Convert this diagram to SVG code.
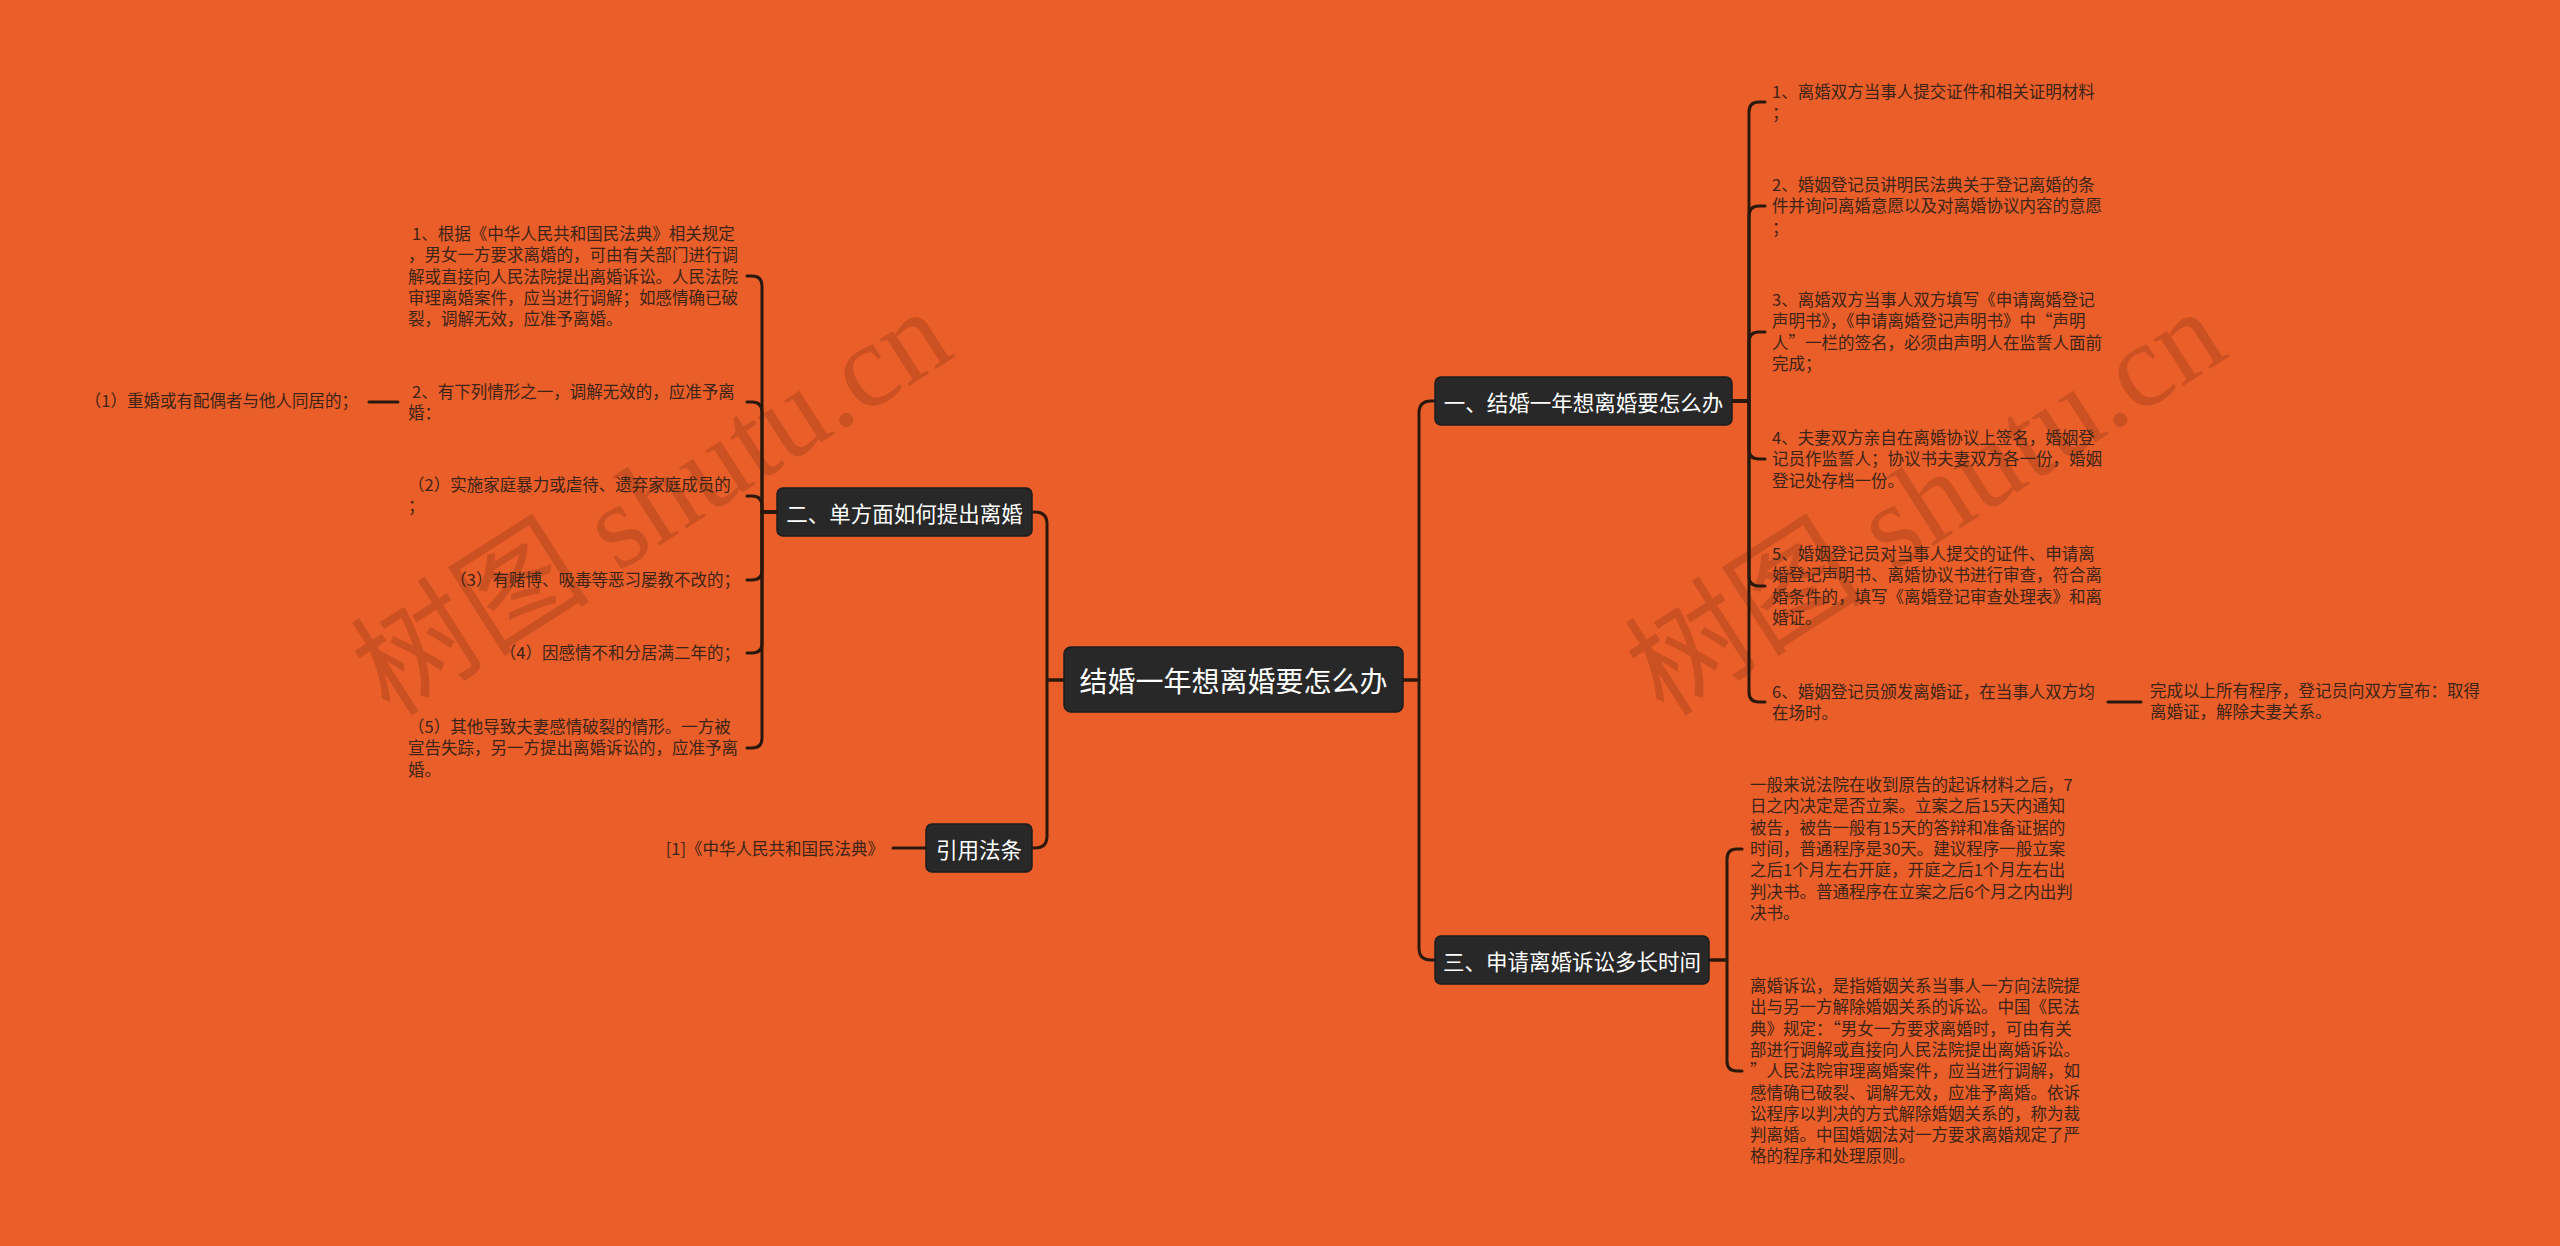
<svg xmlns="http://www.w3.org/2000/svg" width="2560" height="1246" viewBox="0 0 2560 1246">
<style>
.bg{fill:#E95E29}
.box{fill:#282828;stroke:#1c1c1c;stroke-width:1.5}
.nt{fill:#ffffff;font-family:"Noto Sans CJK SC","Noto Sans",sans-serif;dominant-baseline:central;text-anchor:middle}
.leaf{fill:#3d2417;font-family:"Noto Sans CJK SC","Noto Sans",sans-serif;font-size:16.5px}
.edge{fill:none;stroke:#2a180d;stroke-width:3;stroke-linecap:round;stroke-linejoin:round}
.wm{fill:#5a1e08;opacity:0.2;font-family:"Liberation Serif","Noto Sans CJK SC",serif;font-size:120px}
</style>
<rect class="bg" x="0" y="0" width="2560" height="1246"/>

<g id="watermarks">
<text class="wm" x="390" y="718" transform="rotate(-32.6 390 718)">树图 shutu.cn</text>
<text class="wm" x="1664" y="718" transform="rotate(-32.6 1664 718)">树图 shutu.cn</text>
</g>

<g id="connectors">
<path class="edge" d="M1403 680 L1419 680 L1419 413 Q1419 401 1431 401 L1435 401"/>
<path class="edge" d="M1403 680 L1419 680 L1419 948 Q1419 960 1431 960 L1435 960"/>
<path class="edge" d="M1064 680 L1047 680 L1047 524 Q1047 512 1035 512 L1032 512"/>
<path class="edge" d="M1064 680 L1047 680 L1047 836 Q1047 848 1035 848 L1032 848"/>
<path class="edge" d="M1732 401 L1749 401 L1749 112 Q1749 102 1759 102 L1765 102"/>
<path class="edge" d="M1732 401 L1749 401 L1749 216 Q1749 206 1759 206 L1765 206"/>
<path class="edge" d="M1732 401 L1749 401 L1749 342 Q1749 332 1759 332 L1765 332"/>
<path class="edge" d="M1732 401 L1749 401 L1749 449 Q1749 459 1759 459 L1765 459"/>
<path class="edge" d="M1732 401 L1749 401 L1749 576 Q1749 586 1759 586 L1765 586"/>
<path class="edge" d="M1732 401 L1749 401 L1749 692 Q1749 702 1759 702 L1765 702"/>
<path class="edge" d="M2108 702 L2141 702"/>
<path class="edge" d="M1709 960 L1727 960 L1727 859 Q1727 849 1737 849 L1742 849"/>
<path class="edge" d="M1709 960 L1727 960 L1727 1061 Q1727 1071 1737 1071 L1742 1071"/>
<path class="edge" d="M777 512 L762 512 L762 286 Q762 276 752 276 L747 276"/>
<path class="edge" d="M777 512 L762 512 L762 412 Q762 402 752 402 L747 402"/>
<path class="edge" d="M777 512 L762 512 L762 506 Q762 496 752 496 L747 496"/>
<path class="edge" d="M777 512 L762 512 L762 570 Q762 580 752 580 L747 580"/>
<path class="edge" d="M777 512 L762 512 L762 643 Q762 653 752 653 L747 653"/>
<path class="edge" d="M777 512 L762 512 L762 738 Q762 748 752 748 L747 748"/>
<path class="edge" d="M398 402 L369 402"/>
<path class="edge" d="M926 848 L893 848"/>
</g>

<g id="root">
<rect class="box" x="1064" y="647" width="339" height="65" rx="7"/>
<text class="nt" x="1233.5" y="680" font-size="28">结婚一年想离婚要怎么办</text>
</g>

<g id="branch1">
<rect class="box" x="1435" y="377" width="297" height="48" rx="6"/>
<text class="nt" x="1583.5" y="401" font-size="21.5">一、结婚一年想离婚要怎么办</text>
</g>

<g id="branch2">
<rect class="box" x="777" y="488" width="255" height="48" rx="6"/>
<text class="nt" x="904.5" y="512" font-size="21.5">二、单方面如何提出离婚</text>
</g>

<g id="branch3">
<rect class="box" x="1435" y="936" width="274" height="48" rx="6"/>
<text class="nt" x="1572" y="960" font-size="21.5">三、申请离婚诉讼多长时间</text>
</g>

<g id="branch4">
<rect class="box" x="926" y="824" width="106" height="48" rx="6"/>
<text class="nt" x="979" y="848" font-size="21.5">引用法条</text>
</g>

<g id="b1-c1"><text class="leaf" x="1772" y="98"><tspan x="1772">1、离婚双方当事人提交证件和相关证明材料</tspan><tspan x="1772" dy="21.3">；</tspan></text></g>
<g id="b1-c2"><text class="leaf" x="1772" y="191"><tspan x="1772">2、婚姻登记员讲明民法典关于登记离婚的条</tspan><tspan x="1772" dy="21.3">件并询问离婚意愿以及对离婚协议内容的意愿</tspan><tspan x="1772" dy="21.3">；</tspan></text></g>
<g id="b1-c3"><text class="leaf" x="1772" y="306"><tspan x="1772">3、离婚双方当事人双方填写《申请离婚登记</tspan><tspan x="1772" dy="21.3">声明书》，《申请离婚登记声明书》中“声明</tspan><tspan x="1772" dy="21.3">人”一栏的签名，必须由声明人在监誓人面前</tspan><tspan x="1772" dy="21.3">完成；</tspan></text></g>
<g id="b1-c4"><text class="leaf" x="1772" y="444"><tspan x="1772">4、夫妻双方亲自在离婚协议上签名，婚姻登</tspan><tspan x="1772" dy="21.3">记员作监誓人；协议书夫妻双方各一份，婚姻</tspan><tspan x="1772" dy="21.3">登记处存档一份。</tspan></text></g>
<g id="b1-c5"><text class="leaf" x="1772" y="560"><tspan x="1772">5、婚姻登记员对当事人提交的证件、申请离</tspan><tspan x="1772" dy="21.3">婚登记声明书、离婚协议书进行审查，符合离</tspan><tspan x="1772" dy="21.3">婚条件的，填写《离婚登记审查处理表》和离</tspan><tspan x="1772" dy="21.3">婚证。</tspan></text></g>
<g id="b1-c6"><text class="leaf" x="1772" y="698"><tspan x="1772">6、婚姻登记员颁发离婚证，在当事人双方均</tspan><tspan x="1772" dy="21.3">在场时。</tspan></text></g>
<g id="b1-c6-1"><text class="leaf" x="2150" y="697"><tspan x="2150">完成以上所有程序，登记员向双方宣布：取得</tspan><tspan x="2150" dy="21.3">离婚证，解除夫妻关系。</tspan></text></g>

<g id="b3-c1"><text class="leaf" x="1750" y="791"><tspan x="1750">一般来说法院在收到原告的起诉材料之后，7</tspan><tspan x="1750" dy="21.3">日之内决定是否立案。立案之后15天内通知</tspan><tspan x="1750" dy="21.3">被告，被告一般有15天的答辩和准备证据的</tspan><tspan x="1750" dy="21.3">时间，普通程序是30天。建议程序一般立案</tspan><tspan x="1750" dy="21.3">之后1个月左右开庭，开庭之后1个月左右出</tspan><tspan x="1750" dy="21.3">判决书。普通程序在立案之后6个月之内出判</tspan><tspan x="1750" dy="21.3">决书。</tspan></text></g>
<g id="b3-c2"><text class="leaf" x="1750" y="992"><tspan x="1750">离婚诉讼，是指婚姻关系当事人一方向法院提</tspan><tspan x="1750" dy="21.3">出与另一方解除婚姻关系的诉讼。中国《民法</tspan><tspan x="1750" dy="21.3">典》规定：“男女一方要求离婚时，可由有关</tspan><tspan x="1750" dy="21.3">部进行调解或直接向人民法院提出离婚诉讼。</tspan><tspan x="1750" dy="21.3">”人民法院审理离婚案件，应当进行调解，如</tspan><tspan x="1750" dy="21.3">感情确已破裂、调解无效，应准予离婚。依诉</tspan><tspan x="1750" dy="21.3">讼程序以判决的方式解除婚姻关系的，称为裁</tspan><tspan x="1750" dy="21.3">判离婚。中国婚姻法对一方要求离婚规定了严</tspan><tspan x="1750" dy="21.3">格的程序和处理原则。</tspan></text></g>

<g id="b2-c1"><text class="leaf" x="408" y="240"><tspan x="412">1、根据《中华人民共和国民法典》相关规定</tspan><tspan x="408" dy="21.3">，男女一方要求离婚的，可由有关部门进行调</tspan><tspan x="408" dy="21.3">解或直接向人民法院提出离婚诉讼。人民法院</tspan><tspan x="408" dy="21.3">审理离婚案件，应当进行调解；如感情确已破</tspan><tspan x="408" dy="21.3">裂，调解无效，应准予离婚。</tspan></text></g>
<g id="b2-c2"><text class="leaf" x="408" y="398"><tspan x="412">2、有下列情形之一，调解无效的，应准予离</tspan><tspan x="408" dy="21.3">婚：</tspan></text></g>
<g id="b2-c2-1"><text class="leaf" x="358" y="407" text-anchor="end">（1）重婚或有配偶者与他人同居的；</text></g>
<g id="b2-c3"><text class="leaf" x="408" y="491"><tspan x="408">（2）实施家庭暴力或虐待、遗弃家庭成员的</tspan><tspan x="408" dy="21.3">；</tspan></text></g>
<g id="b2-c4"><text class="leaf" x="740" y="586" text-anchor="end">（3）有赌博、吸毒等恶习屡教不改的；</text></g>
<g id="b2-c5"><text class="leaf" x="740" y="659" text-anchor="end">（4）因感情不和分居满二年的；</text></g>
<g id="b2-c6"><text class="leaf" x="408" y="733"><tspan x="408">（5）其他导致夫妻感情破裂的情形。一方被</tspan><tspan x="408" dy="21.3">宣告失踪，另一方提出离婚诉讼的，应准予离</tspan><tspan x="408" dy="21.3">婚。</tspan></text></g>

<g id="b4-c1"><text class="leaf" x="884" y="855" text-anchor="end">[1]《中华人民共和国民法典》</text></g>
</svg>
